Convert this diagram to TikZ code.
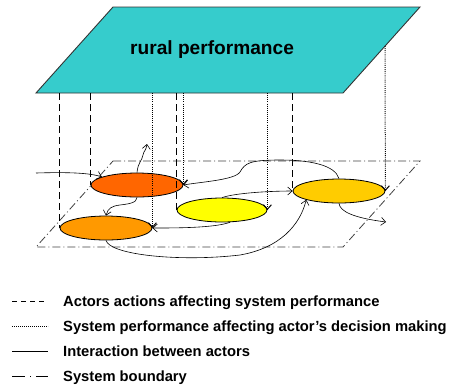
\documentclass[tikz,border=0pt]{standalone}
\usepackage{fontspec}
\setmainfont{Liberation Sans}
\usetikzlibrary{arrows.meta,shapes.geometric}

\definecolor{plane}{HTML}{36CCCC}
\definecolor{actA}{HTML}{FF6600}
\definecolor{actB}{HTML}{FF9900}
\definecolor{actC}{HTML}{FFFF00}
\definecolor{actD}{HTML}{FFCC00}

\tikzset{
  actor/.style={ellipse, draw=black, line width=0.8bp, minimum width=92bp,
                minimum height=24bp, inner sep=0pt},
  tip/.style={-{Straight Barb[length=4.5bp,width=8bp]}},
  action/.style={line width=1.3bp, dash pattern=on 7bp off 4bp},
  feedback/.style={line width=1bp, dash pattern=on 0.9bp off 1.2bp, tip},
  inter/.style={line width=0.6bp, tip},
  boundary/.style={line width=0.8bp, draw=black!75,
                   dash pattern=on 8bp off 3bp on 1bp off 3bp},
  legtext/.style={anchor=base west, font=\bfseries\fontsize{14.8}{16}\selectfont, inner sep=0pt}
}

\begin{document}
\begin{tikzpicture}[x=1bp, y=-1bp]
\useasboundingbox (0,0) rectangle (455,385);

% system boundary
\draw[boundary] (113,161) -- (420,161) -- (343,247) -- (36,247) -- cycle;

% performance plane
\coordinate (p1) at (113,7);
\coordinate (p2) at (420,7);
\coordinate (p3) at (343,93);
\coordinate (p4) at (36,93);
\draw[fill=plane, draw=black!80, line width=0.9bp] (p1) -- (p2) -- (p3) -- (p4) -- cycle;
\node[anchor=base west, inner sep=0pt, font=\bfseries\fontsize{19.2}{22}\selectfont]
  (perf) at (130,54.5) {rural performance};

% actors
\node[actor, fill=actA] (A) at (137,185) {};
\node[actor, fill=actB] (B) at (106,228) {};
\node[actor, fill=actC, minimum width=90bp] (C) at (222,210) {};
\node[actor, fill=actD] (D) at (339,191) {};

% actions affecting the performance plane
\draw[action] (B.west |- p4) -- (B.west);
\draw[action] (A.west |- p4) -- (A.west);
\draw[action] (C.west |- p4) -- (C.west);
\draw[action] (D.west |- p4) -- (D.west);

% performance feeding back into decisions
\draw[feedback] (B.east |- p4) -- (B.east);
\draw[feedback] (A.east |- p4) -- (A.east);
\draw[feedback] (C.east |- p4) -- (C.east);
\coordinate (fD) at (385,46);
\draw[feedback] (fD) -- (D.east);

% interactions between actors
\coordinate (inA) at (36,173);
\coordinate (outA) at (147,144);
\coordinate (outD) at (386,222);
\draw[inter] (inA) .. controls (70,172) and (90,173) .. (A.167);
\draw[inter] (A.north) .. controls (138,162) and (142,161) .. (143,155)
             .. controls (144,150) and (146,151) .. (outA);
\draw[inter] (A.south) .. controls (137,203) and (128,204) .. (120,205)
             .. controls (112,206) and (108,208) .. (B.north);
\draw[inter] (D.north) .. controls (335,165) and (310,160) .. (280,160)
             .. controls (250,160) and (245,163) .. (240,172)
             .. controls (235,180) and (200,182) .. (A.east);
\draw[inter] (C.north) .. controls (235,193) and (270,191) .. (D.west);
\draw[inter] (C.-56) .. controls (215,228) and (175,228) .. (B.east);
\draw[inter] (B.south) .. controls (110,255) and (180,262) .. (240,255)
             .. controls (280,248) and (300,225) .. (D.195);
\draw[inter] (D.south) .. controls (340,212) and (355,218) .. (outD);

% legend
\coordinate (l1a) at (12,301); \coordinate (l1b) at (48,301);
\coordinate (l2a) at (12,326); \coordinate (l2b) at (48,326);
\coordinate (l3a) at (12,351); \coordinate (l3b) at (48,351);
\coordinate (l4a) at (12,376); \coordinate (l4b) at (48,376);
\draw[line width=1bp, dash pattern=on 5bp off 4bp] (l1a) -- (l1b);
\draw[line width=0.8bp, dash pattern=on 0.8bp off 1.2bp] (l2a) -- (l2b);
\draw[line width=1bp] (l3a) -- (l3b);
\draw[line width=1bp, dash pattern=on 13bp off 5bp on 1bp off 5bp] (l4a) -- (l4b);
\node[legtext] (t1) at (63,306) {Actors actions affecting system performance};
\node[legtext] (t2) at (63,331) {System performance affecting actor's decision making};
\node[legtext] (t3) at (63,356) {Interaction between actors};
\node[legtext] (t4) at (63,381) {System boundary};
\end{tikzpicture}
\end{document}
